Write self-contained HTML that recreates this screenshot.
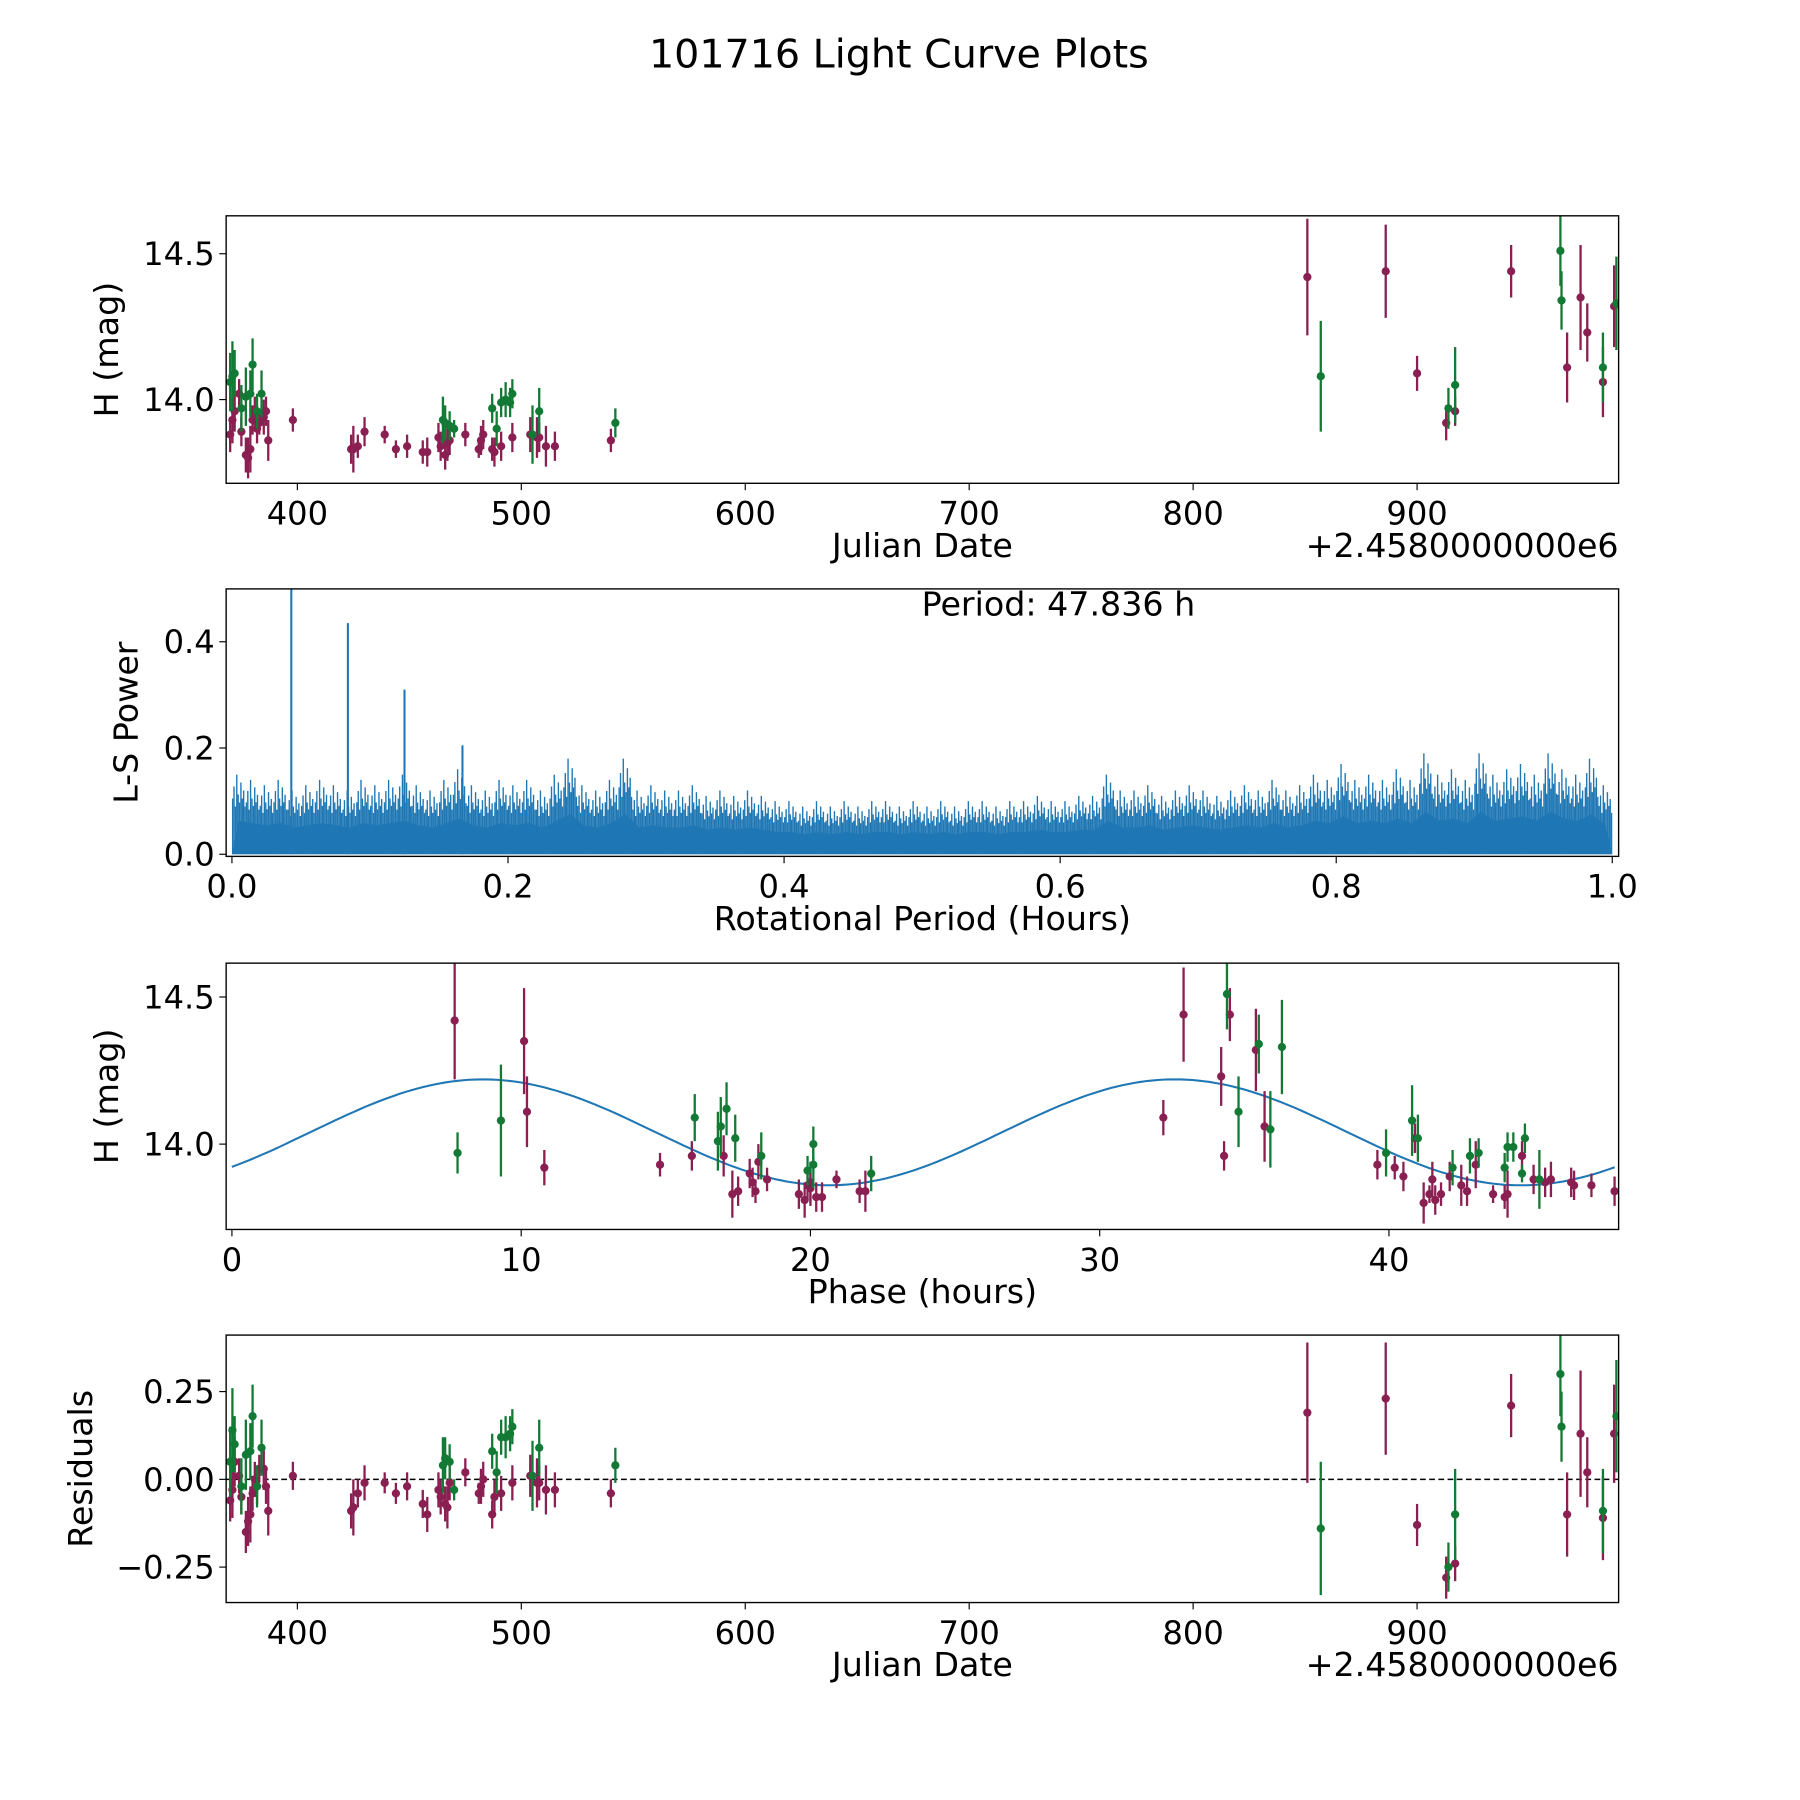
<!DOCTYPE html>
<html><head><meta charset="utf-8"><style>
html,body{margin:0;padding:0;background:#fff}
svg{display:block;font-family:"DejaVu Sans","Liberation Sans",sans-serif}
</style></head><body>
<svg id="fig" width="1800" height="1800" viewBox="0 0 1568 1568" xmlns="http://www.w3.org/2000/svg">
<rect width="1568" height="1568" fill="#fff"/>
<text x="783" y="59" font-size="34.5" text-anchor="middle">101716 Light Curve Plots</text>
<g id="g1"></g><g id="g2"></g><g id="g3"></g><g id="g4"></g>
</svg>
<script>
// observations: julian date offset, magnitude, error, band, phase (h), residual
const jd   =[370,371,372,374,375,377,378,379,380,381,382,383,385,386,387,398, 370,371,372,375,377,379,380,382,384, 424,425,427,430,439,444,449,456,458,463,464,466,467,468,475,481,482,483,487,488,491,496,504,507,508,511,515,540, 465,466,468,470,487,489,491,493,495,496,505,508,542, 851,886,900,913,917,942,967,973,976,983,988, 857,914,917,964,964.5,983,989];
const mag  =[13.88,13.93,13.96,14.02,13.89,13.81,13.80,13.83,13.93,13.96,13.90,13.92,13.94,13.96,13.86,13.93, 14.06,14.08,14.09,13.97,14.01,14.02,14.12,13.96,14.02, 13.83,13.83,13.84,13.89,13.88,13.83,13.84,13.82,13.82,13.87,13.84,13.81,13.85,13.86,13.88,13.83,13.86,13.88,13.83,13.82,13.84,13.87,13.88,13.87,13.87,13.84,13.84,13.86, 13.93,13.92,13.91,13.90,13.97,13.90,13.99,14.00,13.99,14.02,13.88,13.96,13.92, 14.42,14.44,14.09,13.92,13.96,14.44,14.11,14.35,14.23,14.06,14.32, 14.08,13.97,14.05,14.51,14.34,14.11,14.33];
const err  =[.06,.08,.07,.05,.05,.06,.07,.08,.05,.05,.05,.04,.06,.05,.07,.04, .1,.12,.08,.08,.1,.08,.09,.06,.08, .05,.08,.04,.05,.03,.03,.04,.04,.05,.05,.05,.05,.06,.05,.04,.03,.05,.05,.04,.05,.05,.05,.06,.07,.05,.07,.05,.04, .08,.06,.05,.03,.05,.06,.05,.06,.05,.05,.1,.08,.05, .2,.16,.06,.06,.05,.09,.12,.18,.1,.12,.14, .19,.07,.13,.12,.1,.12,.16];
const band =["m","m","m","m","m","m","m","m","m","m","m","m","m","m","m","m", "g","g","g","g","g","g","g","g","g", "m","m","m","m","m","m","m","m","m","m","m","m","m","m","m","m","m","m","m","m","m","m","m","m","m","m","m","m", "g","g","g","g","g","g","g","g","g","g","g","g","g", "m","m","m","m","m","m","m","m","m","m","m", "g","g","g","g","g","g","g"];
const phase=[41.5,43.0,17.0,40.9,42.1,19.8,41.2,17.3,39.6,15.9,17.9,40.2,18.2,44.6,42.5,14.8, 16.9,40.8,16.0,39.9,16.8,41.0,17.1,42.8,17.4, 19.6,44.1,18.1,40.5,20.9,43.6,21.7,44.0,20.2,45.4,17.5,41.6,20.0,46.4,18.5,41.4,19.9,45.0,41.8,20.4,42.7,18.0,45.6,20.0,46.3,21.9,47.8,47.0, 20.1,42.2,19.9,44.6,43.1,22.1,44.1,20.1,44.3,44.7,45.2,18.3,44.0, 7.7,32.9,32.2,10.8,34.3,34.5,10.2,10.1,34.2,35.7,35.4, 9.3,7.8,35.9,34.4,35.5,34.8,36.3];
const resid=[-0.06,-0.03,0.05,0.01,-0.05,-0.15,-0.12,-0.10,-0.04,0.00,-0.02,0.03,0.03,-0.02,-0.09,0.01, 0.05,0.14,0.10,-0.02,0.07,0.08,0.18,-0.02,0.09, -0.09,-0.08,-0.04,-0.01,-0.01,-0.04,-0.02,-0.07,-0.10,-0.03,-0.05,-0.07,-0.08,-0.01,0.02,-0.04,-0.02,0.00,-0.10,-0.05,-0.04,-0.01,0.01,-0.01,-0.01,-0.03,-0.03,-0.04, 0.04,0.06,0.05,-0.03,0.08,0.02,0.12,0.12,0.13,0.15,0.01,0.09,0.04, 0.19,0.23,-0.13,-0.28,-0.24,0.21,-0.10,0.13,0.02,-0.11,0.13, -0.14,-0.25,-0.10,0.30,0.15,-0.09,0.18];
// periodogram envelope (peak power per 0.01 h bin) and strong spikes
const lsPeaks=[.15,.14,.13,.14,.12,.13,.14,.13,.12,.14, .13,.14,.15,.13,.12,.14,.16,.13,.12,.14, .13,.14,.12,.15,.18,.13,.12,.14,.18,.12, .13,.12,.12,.13,.11,.12,.11,.12,.11,.10, .10,.09,.10,.09,.10,.09,.10,.10,.09,.10, .09,.10,.09,.10,.10,.09,.10,.10,.11,.10, .10,.11,.11,.15,.12,.12,.13,.11,.12,.13, .12,.11,.12,.13,.12,.14,.12,.13,.15,.14, .17,.14,.15,.14,.16,.14,.19,.15,.16,.14, .19,.15,.16,.17,.15,.19,.16,.15,.18,.13];
const spikeX=[0.043,0.084,0.125,0.167];
const spikeY=[0.50,0.435,0.31,0.205];
// fitted model
const modelMean=14.04, modelAmp=0.18, modelPeriod=23.918, modelShift=2.7;

const NS="http://www.w3.org/2000/svg";
const COL={m:"#8a1f52",g:"#137a35"};
function mk(parent,tag,attrs){const e=document.createElementNS(NS,tag);for(const k in attrs)e.setAttribute(k,attrs[k]);parent.appendChild(e);return e;}
function lin(d0,d1,r0,r1){return v=>r0+(v-d0)/(d1-d0)*(r1-r0);}
const L=197,R=1410;

function frame(g,top,bot,x,y,xt,xl,yt,yl,xlabel,ylabel,ylx,offset){
  xt.forEach((t,i)=>{const px=x(t);
    const tk=mk(g,"line",{x1:px,x2:px,y1:bot,y2:bot+6,stroke:"#000","stroke-width":1});
    
    const tl=mk(g,"text",{x:px,y:bot+36,"font-size":28,"text-anchor":"middle"});tl.textContent=xl[i];
    });
  yt.forEach((t,i)=>{const py=y(t);
    const tk=mk(g,"line",{x1:L-6,x2:L,y1:py,y2:py,stroke:"#000","stroke-width":1});
    
    const tl=mk(g,"text",{x:L-10,y:py+10,"font-size":28,"text-anchor":"end"});tl.textContent=yl[i];
    });
  const fr=mk(g,"rect",{x:L,y:top,width:R-L,height:bot-top,fill:"none",stroke:"#000","stroke-width":1.2});
  
  const xa=mk(g,"text",{x:(L+R)/2,y:bot+64,"font-size":29,"text-anchor":"middle"});xa.textContent=xlabel;
  
  const cy=(top+bot)/2;
  const ya=mk(g,"text",{x:ylx,y:cy,"font-size":29,"text-anchor":"middle",transform:`rotate(-90 ${ylx} ${cy})`});ya.textContent=ylabel;
  
  if(offset){const o=mk(g,"text",{x:R,y:bot+64,"font-size":29,"text-anchor":"end"});o.textContent=offset;
    }
}
function clip(g,id,top,bot){const d=mk(g,"defs",{});const c=mk(d,"clipPath",{id:id});mk(c,"rect",{x:L,y:top,width:R-L,height:bot-top});return mk(g,"g",{"clip-path":`url(#${id})`});}
function points(g,xs,ys,es,x,y){
  xs.forEach((xv,i)=>{const px=x(xv),py=y(ys[i]),c=COL[band[i]];
    const eb=mk(g,"line",{x1:px,x2:px,y1:y(ys[i]+es[i]),y2:y(ys[i]-es[i]),stroke:c,"stroke-width":2});
    
    const pt=mk(g,"circle",{cx:px,cy:py,r:3.6,fill:c});
    });
}
const jdTicks=[400,500,600,700,800,900];
// Panel 1
{const g=document.getElementById("g1");
 const top=188,bot=421,x=lin(368.2,990,L,R),y=lin(14.63,13.713,top,bot);
 const c=clip(g,"c1",top,bot);points(c,jd,mag,err,x,y);
 frame(g,top,bot,x,y,jdTicks,jdTicks.map(String),[14.0,14.5],["14.0","14.5"],"Julian Date","H (mag)",103,"+2.4580000000e6");}
// Panel 2
{const g=document.getElementById("g2");
 const top=513,bot=746,x=lin(-0.0042,1.0046,L,R),y=lin(0.4995,-0.004,top,bot);
 const c=clip(g,"c2",top,bot);
 const n=lsPeaks.length;let poly=`${x(0)},${y(0)} `;
 lsPeaks.forEach((v,i)=>{poly+=`${x((i+0.5)/n)},${y(v*0.42)} `;});
 poly+=`${x(1)},${y(0)}`;
 const f=mk(c,"polygon",{points:poly,fill:"#1f77b4"});
 const fr=[0.05,0.15,0.25,0.35,0.45,0.55,0.65,0.75,0.85,0.95],sc=[0.7,0.85,0.6,1,0.75,0.65,0.9,0.7,0.8,0.6];
 lsPeaks.forEach((v,i)=>{fr.forEach((o,k)=>{const px=x((i+o)/n);
   const ln=mk(c,"line",{x1:px,x2:px,y1:y(0),y2:y(v*sc[k]),stroke:"#1f77b4","stroke-width":1.2});
   });});
 spikeX.forEach((sx,i)=>{const px=x(sx);const ln=mk(c,"line",{x1:px,x2:px,y1:y(0),y2:y(spikeY[i]),stroke:"#1f77b4","stroke-width":1.8});
   });
 const pt=mk(g,"text",{x:922,y:536,"font-size":29,"text-anchor":"middle"});pt.textContent="Period: 47.836 h";
 
 const xt=[0,0.2,0.4,0.6,0.8,1.0];
 frame(g,top,bot,x,y,xt,xt.map(v=>v.toFixed(1)),[0,0.2,0.4],["0.0","0.2","0.4"],"Rotational Period (Hours)","L-S Power",120,null);}
// Panel 3
{const g=document.getElementById("g3");
 const top=839,bot=1071,x=lin(-0.2,47.94,L,R),y=lin(14.615,13.71,top,bot);
 const c=clip(g,"c3",top,bot);
 let d="";for(let p=0;p<=47.9;p+=0.2){const m=modelMean+modelAmp*Math.sin(2*Math.PI*(p-modelShift)/modelPeriod);d+=(d?"L":"M")+x(p).toFixed(1)+","+y(m).toFixed(1);}
 const mp=mk(c,"path",{d:d,fill:"none",stroke:"#1f77b4","stroke-width":1.8});
 points(c,phase,mag,err,x,y);
 const xt=[0,10,20,30,40];
 frame(g,top,bot,x,y,xt,xt.map(String),[14.0,14.5],["14.0","14.5"],"Phase (hours)","H (mag)",103,null);}
// Panel 4
{const g=document.getElementById("g4");
 const top=1163,bot=1396,x=lin(368.2,990,L,R),y=lin(0.411,-0.351,top,bot);
 const c=clip(g,"c4",top,bot);
 const z=mk(c,"line",{x1:L,x2:R,y1:y(0),y2:y(0),stroke:"#000","stroke-width":1.3,"stroke-dasharray":"5,3"});
 
 points(c,jd,resid,err,x,y);
 frame(g,top,bot,x,y,jdTicks,jdTicks.map(String),[0.25,0,-0.25],["0.25","0.00","\u22120.25"],"Julian Date","Residuals",80,"+2.4580000000e6");}
</script>
</body></html>
